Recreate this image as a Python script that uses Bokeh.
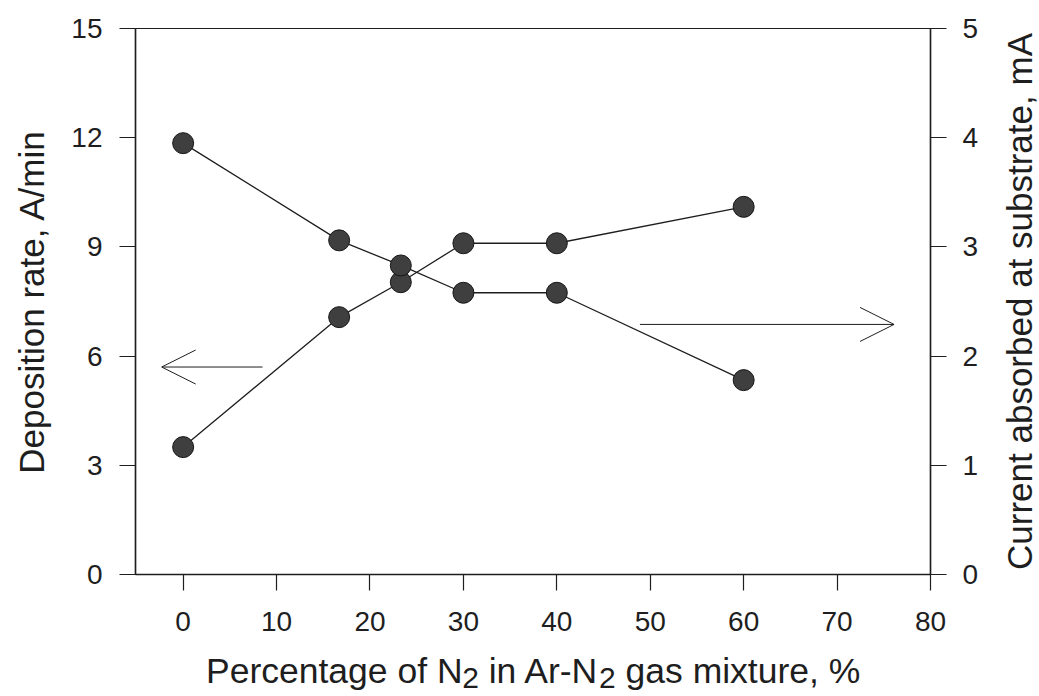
from bokeh.plotting import figure
from bokeh.models import Range1d, LinearAxis, FixedTicker, Arrow, OpenHead
from bokeh.layouts import gridplot
from bokeh.core.properties import value
from bokeh.embed import file_html
from bokeh.resources import INLINE

# ---- data ----
n2_percent = [0, 16.7, 23.3, 30, 40, 60]
deposition_rate = [3.5, 7.07, 8.03, 9.1, 9.1, 10.1]        # left axis, A/min
substrate_current = [3.95, 3.06, 2.83, 2.58, 2.58, 1.78]   # right axis, mA

x_ticks = [0, 10, 20, 30, 40, 50, 60, 70, 80]
left_ticks = [0, 3, 6, 9, 12, 15]
right_ticks = [0, 1, 2, 3, 4, 5]

# arrows pointing to the axis each series belongs to
left_arrow = dict(x_start=8.5, x_end=-2.3, y=5.7)
right_arrow = dict(x_start=48.9, x_end=76.1, y=2.29)

left_title = "Deposition rate, A/min"
right_title = "Current absorbed at substrate, mA"
# x-axis title pieces: (text, is_subscript, leading spaces)
x_title_pieces = [("Percentage of N", False, 0), ("2", True, 0), ("in Ar-N", False, 1),
                  ("2", True, 0), ("gas mixture, %", False, 1)]

FONT = "Liberation Sans"
INK = "#1e1e1e"
PAGE_W, PAGE_H = 1039, 696
MAIN_W, MAIN_H = 981, 650
SIDE_W = PAGE_W - MAIN_W
TITLE_H = PAGE_H - MAIN_H
BORDER_L, BORDER_R, BORDER_T = 135, 50, 28
BORDER_B = MAIN_H - 574

p = figure(width=MAIN_W, height=MAIN_H, output_backend="svg", toolbar_location=None,
           x_range=Range1d(-5.1, 80), y_range=Range1d(0, 15),
           min_border_left=BORDER_L, min_border_right=BORDER_R, min_border_top=BORDER_T,
           min_border_bottom=BORDER_B)
p.extra_y_ranges = {"right": Range1d(0, 5)}
p.background_fill_color = "white"
p.border_fill_color = "white"
p.outline_line_color = INK
p.outline_line_width = 1.2
p.xgrid.visible = False
p.ygrid.visible = False


def style_axis(ax, standoff):
    ax.axis_line_color = INK
    ax.axis_line_width = 1.5
    ax.major_tick_line_color = INK
    ax.major_tick_line_width = 1.2
    ax.major_tick_out = 16
    ax.major_tick_in = 0
    ax.minor_tick_out = 0
    ax.minor_tick_in = 0
    ax.major_label_text_font = FONT
    ax.major_label_text_font_size = "28px"
    ax.major_label_text_color = INK
    ax.major_label_standoff = standoff
    ax.axis_label_text_font = FONT
    ax.axis_label_text_font_size = "35px"
    ax.axis_label_text_font_style = "normal"
    ax.axis_label_text_color = INK


xax = p.xaxis[0]
style_axis(xax, 21)
xax.ticker = FixedTicker(ticks=x_ticks)

yax = p.yaxis[0]
style_axis(yax, 17)
yax.ticker = FixedTicker(ticks=left_ticks)
yax.axis_label = left_title
yax.axis_label_standoff = 17

rax = LinearAxis(y_range_name="right")
style_axis(rax, 16)
rax.ticker = FixedTicker(ticks=right_ticks)
p.add_layout(rax, "right")

# series
p.line(n2_percent, deposition_rate, line_color=INK, line_width=1.3)
p.line(n2_percent, substrate_current, line_color=INK, line_width=1.3, y_range_name="right")
p.scatter(n2_percent, deposition_rate, size=21, marker="circle",
          fill_color="#3f3f3f", line_color="#151515", line_width=1)
p.scatter(n2_percent, substrate_current, size=21, marker="circle",
          fill_color="#3f3f3f", line_color="#151515", line_width=1, y_range_name="right")

# arrows
p.add_layout(Arrow(x_start=left_arrow["x_start"], x_end=left_arrow["x_end"],
                   y_start=left_arrow["y"], y_end=left_arrow["y"],
                   line_color=INK, line_width=1,
                   end=OpenHead(size=34, line_color=INK, line_width=1)))
p.add_layout(Arrow(x_start=right_arrow["x_start"], x_end=right_arrow["x_end"],
                   y_start=right_arrow["y"], y_end=right_arrow["y"],
                   y_range_name="right",
                   line_color=INK, line_width=1,
                   end=OpenHead(size=34, line_color=INK, line_width=1)))

# ---- right-hand title strip: a left axis of a thin plot reads bottom-to-top ----
r = figure(width=SIDE_W, height=MAIN_H, output_backend="svg", toolbar_location=None,
           x_range=Range1d(0, 1), y_range=Range1d(0, 5),
           x_axis_location=None, y_axis_location="left",
           min_border_left=SIDE_W - 1, min_border_right=0,
           min_border_top=BORDER_T, min_border_bottom=BORDER_B)
r.outline_line_color = None
r.background_fill_color = "white"
r.border_fill_color = "white"
r.xgrid.visible = False
r.ygrid.visible = False
rt = r.yaxis[0]
rt.ticker = FixedTicker(ticks=[])
rt.axis_line_color = None
rt.major_tick_out = 0
rt.major_tick_in = 0
rt.minor_tick_out = 0
rt.minor_tick_in = 0
rt.major_label_standoff = 0
rt.axis_label = right_title
rt.axis_label_standoff = 0
rt.axis_label_text_font = FONT
rt.axis_label_text_font_size = "35px"
rt.axis_label_text_font_style = "normal"
rt.axis_label_text_color = INK

# ---- x-axis title strip (text with lowered subscripts) ----
XL_SIZE = 35.5
SUB_SIZE = 30
char_w = {' ': 278, 'P': 667, 'e': 556, 'r': 333, 'c': 500, 'n': 556, 't': 278,
          'a': 556, 'g': 556, 'o': 556, 'f': 278, 'N': 722, '2': 556, 'i': 222,
          'A': 667, '-': 333, 's': 500, 'm': 833, 'x': 500, 'u': 556, ',': 278,
          '%': 889}


def width(txt, size):
    return sum(char_w.get(c, 556) for c in txt) * size / 1000.0


total = 0.0
for txt, sub, lead in x_title_pieces:
    total += lead * width(" ", XL_SIZE) + width(txt, SUB_SIZE if sub else XL_SIZE)

FRAME_L, FRAME_R = BORDER_L, MAIN_W - BORDER_R
frame_center = (FRAME_L + FRAME_R) / 2.0
MID = 0.3465  # (ascent - descent) / 2 for Liberation Sans, in em
main_baseline = 683   # page pixels from top
sub_baseline = 688

t = figure(width=MAIN_W, height=TITLE_H, output_backend="svg", toolbar_location=None,
           x_range=Range1d(FRAME_L, FRAME_R), y_range=Range1d(0, TITLE_H),
           x_axis_location=None, y_axis_location=None,
           min_border=0, min_border_left=BORDER_L, min_border_right=BORDER_R,
           min_border_top=0, min_border_bottom=0)
t.outline_line_color = None
t.background_fill_color = "white"
t.border_fill_color = "white"
t.xgrid.visible = False
t.ygrid.visible = False

cur = frame_center - total / 2.0
for txt, sub, lead in x_title_pieces:
    sz = SUB_SIZE if sub else XL_SIZE
    cur += lead * width(" ", XL_SIZE)
    base = sub_baseline if sub else main_baseline
    mid_y = PAGE_H - (base - MID * sz)
    t.text(x=[cur], y=[mid_y], text=[txt],
           text_font=value(FONT), text_font_size=f"{sz}px", text_color=INK,
           text_align="left", text_baseline="middle")
    cur += width(txt, sz)

layout = gridplot([[p, r], [t, None]], toolbar_location=None)
open("out.html", "w").write(file_html(layout, INLINE))
